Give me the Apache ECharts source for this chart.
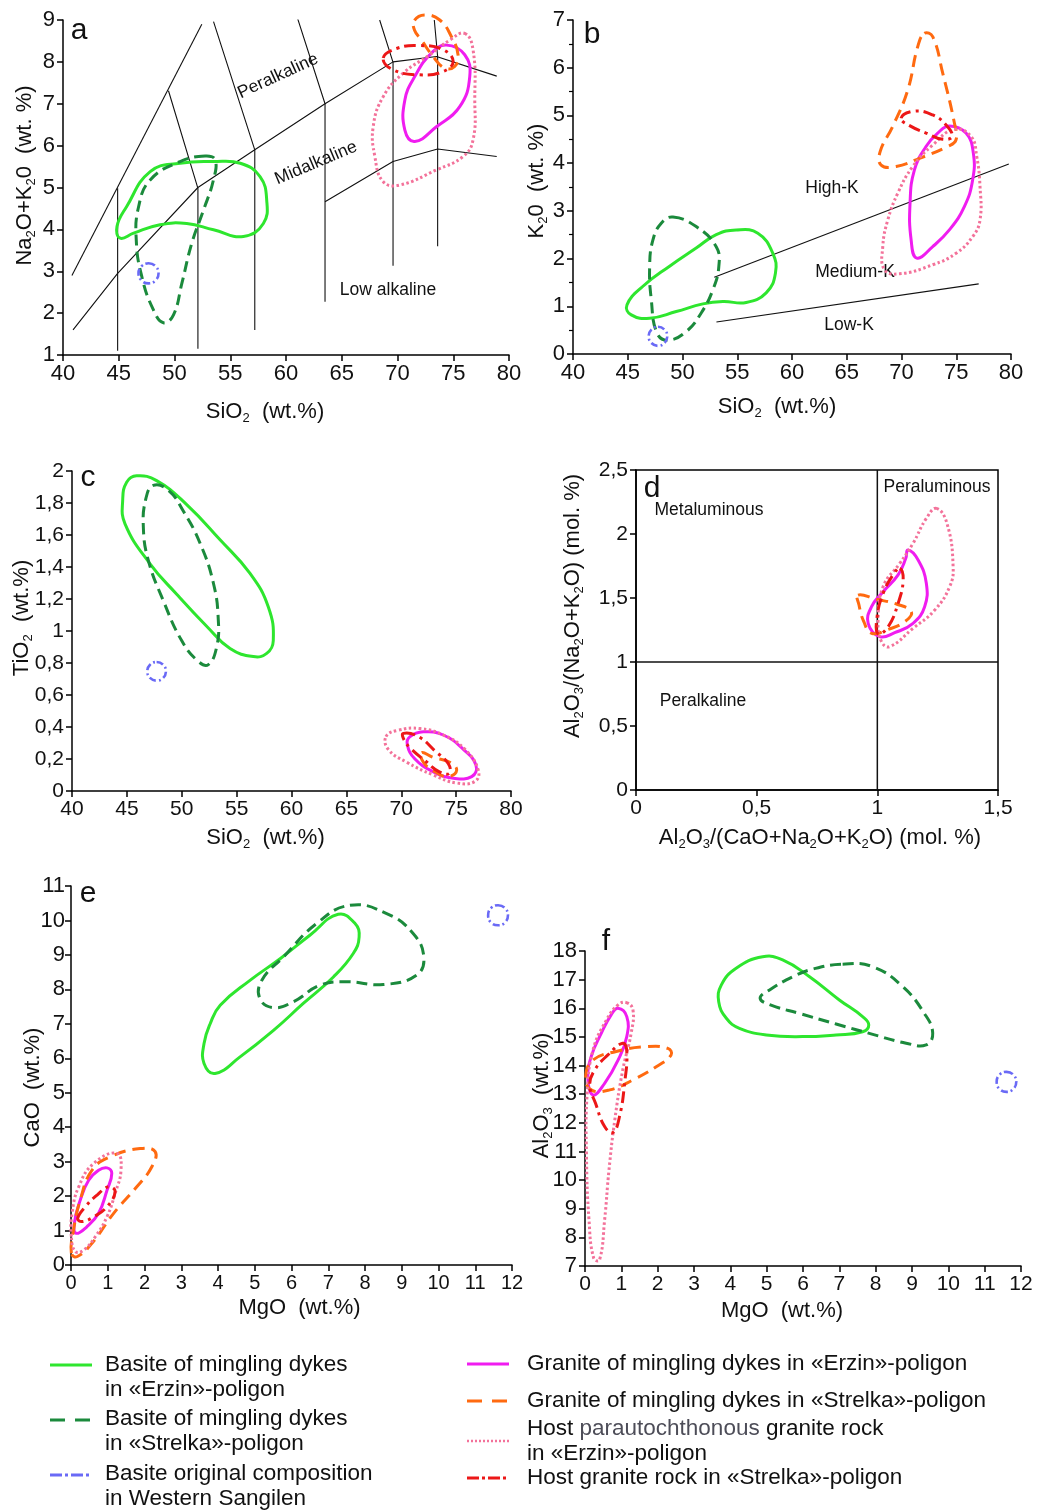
<!DOCTYPE html>
<html><head><meta charset="utf-8">
<script src="https://cdn.jsdelivr.net/npm/echarts/dist/echarts.min.js"></script>
<style>html,body{margin:0;padding:0;background:#fff}#c{width:1042px;height:1512px}</style>
</head><body><div id="c"></div>
<script>
// ---------- Panel a : SiO2 vs Na2O+K2O (field outlines) ----------
const a_basErzin = [[44.84,4.07],[45.7,4.54],[47.82,5.38],[50.5,5.58],[53.5,5.62],[55.9,5.58],[57.67,5.26],[58.27,4.70],[57.97,4.14],[56.18,3.83],[53.5,3.99],[51.1,4.14],[48.7,4.11],[46.33,3.91],[45.13,3.79]];
const a_basStrelka = [[52.75,5.75],[50.5,5.62],[47.82,5.18],[46.78,4.54],[46.57,3.75],[47.07,2.87],[48.12,2.07],[49.01,1.77],[49.91,1.96],[50.66,2.71],[51.55,3.67],[52.6,4.46],[53.49,5.18],[53.64,5.66]];
const a_basOrig = [[47.67,3.19],[48.3,3.12],[48.57,2.95],[48.3,2.78],[47.67,2.71],[47.04,2.78],[46.77,2.95],[47.04,3.12]];
const a_grErzin = [[74.39,8.40],[76.03,8.17],[76.48,7.65],[75.58,6.93],[73.49,6.45],[71.55,6.10],[70.66,6.37],[70.66,7.09],[71.55,7.65],[73.04,8.21]];
const a_grStrelka = [[71.52,8.99],[72.45,9.12],[73.79,9.0],[74.84,8.60],[75.43,8.17],[75.13,7.89],[74.24,7.85],[73.19,8.13],[72.15,8.52],[71.52,8.76]];
const a_hostErzin = [[76.03,8.68],[76.78,8.28],[76.93,7.09],[76.78,6.14],[75.88,5.74],[73.49,5.42],[70.21,5.06],[68.72,5.14],[67.97,5.74],[67.82,6.45],[68.72,7.17],[70.51,7.73],[72.9,8.17],[74.69,8.52]];
const a_hostStrelka = [[68.72,8.09],[69.91,8.32],[72.0,8.39],[74.09,8.29],[74.99,8.01],[74.09,7.77],[72.0,7.69],[69.61,7.81]];
// classification boundaries (panel a)
const tasUpper = [[40.8,2.9],[52.45,8.9]];
const tasMid = [[40.9,1.6],[44.9,2.95],[52.1,5.0],[57.2,5.9],[63.5,7.0],[69.6,8.0],[73.5,8.13],[78.9,7.66]];
const tasLow = [[63.5,4.66],[69.6,5.62],[73.6,5.92],[78.9,5.74]];
const tasV1 = [[44.9,4.98],[44.9,1.1]];
const tasV2 = [[49.46,7.31],[52.1,4.98],[52.1,1.15]];
const tasV3 = [[53.5,8.96],[57.2,5.9],[57.2,1.6]];
const tasV4 = [[61.0,9.07],[63.5,7.0],[63.5,2.27]];
const tasV5 = [[68.4,9.0],[69.6,7.99],[69.6,3.13]];
const tasV6 = [[73.3,9.0],[73.6,8.13],[73.6,3.6]];

// ---------- Panel b : SiO2 vs K2O ----------
const b_basErzin = [[44.93,1.03],[46.39,1.42],[48.82,1.84],[51.25,2.22],[53.08,2.50],[54.9,2.60],[56.88,2.53],[58.25,2.11],[58.49,1.70],[57.64,1.28],[55.82,1.08],[53.69,1.10],[51.86,1.05],[49.43,0.89],[47.0,0.75],[45.32,0.82]];
const b_basStrelka = [[49.13,2.87],[51.25,2.67],[53.08,2.25],[53.32,1.84],[52.78,1.35],[51.71,0.86],[50.34,0.47],[48.67,0.29],[47.67,0.44],[47.15,1.14],[47.0,1.84],[47.3,2.39],[48.06,2.74]];
const b_basOrig = [[47.76,0.57],[48.36,0.51],[48.61,0.37],[48.36,0.23],[47.76,0.17],[47.16,0.23],[46.91,0.37],[47.16,0.51]];
const b_grErzin = [[74.37,4.78],[75.89,4.63],[76.56,4.21],[76.5,3.65],[75.74,3.09],[74.37,2.60],[72.85,2.25],[71.39,2.01],[70.88,2.39],[70.78,3.16],[71.18,3.86],[72.24,4.35],[73.31,4.63]];
const b_grStrelka = [[72.09,6.72],[72.85,6.65],[73.76,5.89],[74.83,4.84],[74.98,4.49],[74.22,4.35],[71.64,4.10],[69.51,3.93],[68.14,3.96],[68.05,4.24],[69.2,4.77],[70.57,5.53],[71.48,6.44]];
const b_hostErzin = [[74.83,4.71],[76.35,4.56],[76.87,4.14],[77.17,3.51],[77.17,2.81],[76.5,2.46],[74.98,2.11],[72.85,1.87],[69.81,1.68],[68.44,1.77],[68.29,2.25],[68.75,2.81],[69.66,3.37],[71.03,3.93],[72.85,4.38]];
const b_hostStrelka = [[69.96,4.94],[71.18,5.09],[72.85,5.01],[74.07,4.80],[74.62,4.56],[73.76,4.50],[72.24,4.63],[70.87,4.77]];
const kHigh = [[52.9,1.61],[79.8,3.98]];
const kLow = [[53.1,0.67],[77.05,1.47]];

// ---------- Panel c : SiO2 vs TiO2 ----------
const c_basErzin = [[45.89,1.97],[47.71,1.94],[50.45,1.79],[53.49,1.57],[56.22,1.36],[57.89,1.15],[58.34,0.94],[57.74,0.86],[56.52,0.84],[54.4,0.89],[52.27,1.03],[49.54,1.23],[47.11,1.42],[44.83,1.67],[44.62,1.82],[44.98,1.93]];
const c_basStrelka = [[47.41,1.91],[48.78,1.88],[50.14,1.75],[51.66,1.55],[52.88,1.30],[53.33,1.07],[53.18,0.90],[52.42,0.79],[51.51,0.81],[49.99,0.94],[48.32,1.19],[46.96,1.44],[46.5,1.65],[46.74,1.83]];
const c_basOrig = [[47.71,0.806],[48.31,0.789],[48.56,0.748],[48.31,0.707],[47.71,0.69],[47.11,0.707],[46.86,0.748],[47.11,0.789]];
const c_grErzin = [[70.8,0.34],[72.01,0.37],[73.83,0.35],[75.66,0.26],[76.81,0.16],[76.42,0.09],[74.75,0.08],[72.92,0.12],[71.25,0.20],[70.55,0.29]];
const c_grStrelka = [[71.86,0.24],[72.92,0.21],[74.43,0.18],[75.05,0.13],[74.29,0.09],[73.08,0.12],[72.01,0.18]];
const c_hostErzin = [[68.61,0.34],[69.73,0.38],[71.71,0.39],[73.83,0.35],[75.81,0.26],[77.02,0.13],[76.72,0.06],[75.05,0.05],[72.92,0.10],[70.49,0.18],[68.82,0.26]];
const c_hostStrelka = [[70.19,0.36],[71.56,0.34],[73.08,0.25],[74.29,0.17],[74.38,0.11],[73.47,0.12],[72.16,0.19],[70.95,0.26],[70.25,0.32]];

// ---------- Panel d : A/CNK vs A/NK ----------
const d_grErzin = [[1.127,1.875],[1.169,1.797],[1.203,1.615],[1.196,1.432],[1.148,1.302],[1.072,1.229],[1.01,1.198],[0.962,1.302],[0.976,1.432],[1.024,1.549],[1.086,1.68],[1.118,1.81]];
const d_grStrelka = [[0.92,1.523],[0.996,1.49],[1.079,1.453],[1.141,1.393],[1.114,1.315],[1.045,1.255],[0.976,1.224],[0.944,1.315],[0.924,1.445]];
const d_hostErzin = [[1.245,2.20],[1.289,2.08],[1.314,1.745],[1.30,1.59],[1.238,1.406],[1.148,1.263],[1.051,1.12],[1.017,1.159],[1.003,1.328],[1.024,1.589],[1.093,1.771],[1.148,1.927],[1.203,2.122]];
const d_hostStrelka = [[1.093,1.732],[1.107,1.641],[1.086,1.458],[1.045,1.276],[1.003,1.219],[0.999,1.354],[1.024,1.536],[1.065,1.68]];
const alDivV = [[1,0],[1,2.5]];
const alDivH = [[0,1],[1.5,1]];

// ---------- Panel e : MgO vs CaO ----------
const e_basErzin = [[7.27,10.18],[7.73,9.91],[7.84,9.52],[7.68,9.04],[7.14,8.36],[6.32,7.59],[5.51,6.81],[4.6,6.04],[3.92,5.56],[3.62,5.85],[3.62,6.43],[3.79,7.01],[4.06,7.54],[4.87,8.26],[5.69,8.89],[6.5,9.57]];
const e_basStrelka = [[7.59,10.44],[8.59,10.2],[9.31,9.62],[9.6,8.94],[9.4,8.41],[8.5,8.14],[7.5,8.22],[6.78,8.12],[6.05,7.64],[5.51,7.47],[5.14,7.73],[5.19,8.26],[5.78,8.94],[6.68,9.91]];
const e_basOrig = [[11.62,10.44],[11.81,10.36],[11.89,10.15],[11.81,9.94],[11.62,9.86],[11.43,9.94],[11.35,10.15],[11.43,10.36]];
const e_grErzin = [[0.98,2.82],[1.11,2.66],[0.98,2.17],[0.75,1.50],[0.43,1.11],[0.14,0.92],[0.09,1.21],[0.25,1.88],[0.48,2.46],[0.75,2.75]];
const e_grStrelka = [[0.01,0.34],[0.07,1.02],[0.25,1.88],[0.57,2.75],[1.07,3.14],[1.88,3.38],[2.29,3.29],[2.2,2.85],[1.79,2.27],[1.16,1.5],[0.57,0.63],[0.16,0.24]];
const e_hostErzin = [[0.01,0.82],[0.03,1.5],[0.21,2.27],[0.62,2.95],[1.25,3.24],[1.36,2.75],[1.2,2.08],[0.98,1.4],[0.66,0.82],[0.34,0.43],[0.12,0.39]];
const e_hostStrelka = [[0.18,1.35],[0.39,1.69],[0.71,2.03],[1.02,2.27],[1.2,2.13],[0.98,1.69],[0.62,1.40],[0.3,1.26]];

// ---------- Panel f : MgO vs Al2O3 ----------
const f_basErzin = [[4.89,17.8],[5.44,17.69],[6.18,17.1],[7.0,16.29],[7.64,15.71],[7.81,15.42],[7.64,15.18],[6.91,15.07],[5.99,15.01],[4.99,15.07],[4.25,15.3],[3.89,15.65],[3.68,16.23],[3.75,16.81],[4.16,17.4]];
const f_basStrelka = [[7.09,17.54],[7.92,17.45],[8.74,16.76],[9.34,15.82],[9.57,15.13],[9.39,14.72],[8.84,14.78],[7.92,15.09],[6.91,15.45],[5.9,15.82],[5.12,16.11],[4.82,16.35],[5.08,16.64],[5.72,17.1],[6.27,17.37]];
const f_basOrig = [[11.6,13.78],[11.79,13.68],[11.87,13.43],[11.79,13.18],[11.6,13.08],[11.41,13.18],[11.33,13.43],[11.41,13.68]];
const f_grErzin = [[0.91,16.0],[1.15,15.71],[1.15,15.01],[0.91,14.19],[0.54,13.38],[0.22,12.97],[0.08,13.55],[0.17,14.31],[0.45,15.13],[0.72,15.77]];
const f_grStrelka = [[0.02,13.61],[0.22,14.19],[0.86,14.49],[1.69,14.66],[2.28,14.6],[2.37,14.37],[1.96,13.96],[1.32,13.5],[0.68,13.15],[0.17,13.15]];
const f_hostErzin = [[1.14,16.2],[1.32,15.94],[1.27,15.13],[1.04,13.85],[0.82,12.1],[0.66,10.35],[0.54,8.61],[0.4,7.21],[0.24,7.27],[0.11,8.61],[0.04,10.93],[0.06,13.03],[0.22,14.54],[0.59,15.59],[0.91,16.12]];
const f_hostStrelka = [[1.04,14.78],[1.15,14.49],[1.09,13.38],[0.95,12.22],[0.77,11.66],[0.54,11.87],[0.29,12.68],[0.13,13.32],[0.27,13.85],[0.63,14.37]];

// ---------- Legend names ----------
const groupNames = {
  basErzin: 'Basite of mingling dykes in «Erzin»-poligon',
  basStrelka: 'Basite of mingling dykes in «Strelka»-poligon',
  basOrig: 'Basite original composition in Western Sangilen',
  grErzin: 'Granite of mingling dykes in «Erzin»-poligon',
  grStrelka: 'Granite of mingling dykes in «Strelka»-poligon',
  hostErzin: 'Host parautochthonous granite rock in «Erzin»-poligon',
  hostStrelka: 'Host granite rock in «Strelka»-poligon'
};
const panelLetters = ['a','b','c','d','e','f'];

// ---------- styles ----------
const STY = {
  basErzin:   {color:'#2ee62e', dash:null, w:3},
  basStrelka: {color:'#1b8a3c', dash:[11,6], w:3},
  basOrig:    {color:'#6a6af6', dash:[7,3,2,3], w:2.6},
  grErzin:    {color:'#f01cf0', dash:null, w:3},
  grStrelka:  {color:'#ff6a10', dash:[12,7], w:3},
  hostErzin:  {color:'#f3729a', dash:[2.5,2.5], w:3},
  hostStrelka:{color:'#ec1717', dash:[12,5,3,5], w:3}
};
const FONT = "'Liberation Sans', Arial, sans-serif";
const TXT = '#111';

const panels = [
  {a:0, fields:{basErzin:a_basErzin,basStrelka:a_basStrelka,basOrig:a_basOrig,grErzin:a_grErzin,grStrelka:a_grStrelka,hostErzin:a_hostErzin,hostStrelka:a_hostStrelka},
   lines:[tasUpper,tasMid,tasLow,tasV1,tasV2,tasV3,tasV4,tasV5,tasV6], lw:1.1},
  {a:1, fields:{basErzin:b_basErzin,basStrelka:b_basStrelka,basOrig:b_basOrig,grErzin:b_grErzin,grStrelka:b_grStrelka,hostErzin:b_hostErzin,hostStrelka:b_hostStrelka},
   lines:[kHigh,kLow], lw:1.1},
  {a:2, fields:{basErzin:c_basErzin,basStrelka:c_basStrelka,basOrig:c_basOrig,grErzin:c_grErzin,grStrelka:c_grStrelka,hostErzin:c_hostErzin,hostStrelka:c_hostStrelka},
   lines:[], lw:1},
  {a:3, fields:{grErzin:d_grErzin,grStrelka:d_grStrelka,hostErzin:d_hostErzin,hostStrelka:d_hostStrelka},
   lines:[alDivV,alDivH], lw:1.5},
  {a:4, fields:{basErzin:e_basErzin,basStrelka:e_basStrelka,basOrig:e_basOrig,grErzin:e_grErzin,grStrelka:e_grStrelka,hostErzin:e_hostErzin,hostStrelka:e_hostStrelka},
   lines:[], lw:1},
  {a:5, fields:{basErzin:f_basErzin,basStrelka:f_basStrelka,basOrig:f_basOrig,grErzin:f_grErzin,grStrelka:f_grStrelka,hostErzin:f_hostErzin,hostStrelka:f_hostStrelka},
   lines:[], lw:1}
];

const commaFmt = v => String(v).replace('.', ',');
function axis(gridIndex, min, max, interval, name, nameGap, namePad, fontSize, margin, comma, extra) {
  const o = {
    type:'value', gridIndex, min, max, interval,
    name, nameLocation:'middle', nameGap, nameMoveOverlap:false,
    nameTextStyle:{fontFamily:FONT, fontSize:22, color:TXT, lineHeight:26, padding:namePad,
      rich:{s:{fontFamily:FONT, fontSize:13, lineHeight:13, verticalAlign:'bottom', color:TXT}}},
    axisLine:{show:true, onZero:false, lineStyle:{color:'#000', width:1.5}},
    axisTick:{show:true, length:6, lineStyle:{color:'#000', width:1.5}},
    axisLabel:{fontFamily:FONT, fontSize, color:TXT, margin},
    splitLine:{show:false}
  };
  if (comma) o.axisLabel.formatter = commaFmt;
  return Object.assign(o, extra || {});
}

const xAxis = [
  axis(0, 40, 80, 5, 'SiO{s|2}  (wt.%)', 44, [0,42,0,0], 22, 8),
  axis(1, 40, 80, 5, 'SiO{s|2}  (wt.%)', 40, [0,30,0,0], 22, 8),
  axis(2, 40, 80, 5, 'SiO{s|2}  (wt.%)', 34, [0,52,0,0], 21, 8),
  axis(3, 0, 1.5, 0.5, 'Al{s|2}O{s|3}/(CaO+Na{s|2}O+K{s|2}O) (mol. %)', 35, [0,0,0,6], 21, 8, true),
  axis(4, 0, 12, 1, 'MgO  (wt.%)', 30, [0,0,0,16], 20, 8),
  axis(5, 0, 12, 1, 'MgO  (wt.%)', 32, [0,42,0,0], 21, 8)
];
const yAxis = [
  axis(0, 1, 9, 1, 'Na{s|2}O+K{s|2}0  (wt. %)', 25, [0,0,0,24], 22, 8),
  axis(1, 0, 7, 1, 'K{s|2}0  (wt. %)', 23, [0,0,0,12], 22, 8, false, {minorTick:{show:true, splitNumber:2, length:4, lineStyle:{color:'#000', width:1.2}}}),
  axis(2, 0, 2, 0.2, 'TiO{s|2}  (wt.%)', 37, [0,0,0,26], 21, 8, true),
  axis(3, 0, 2.5, 0.5, 'Al{s|2}O{s|3}/(Na{s|2}O+K{s|2}O) (mol. %)', 50, [0,0,0,48], 21, 8, true),
  axis(4, 0, 11, 1, 'CaO  (wt.%)', 25, [0,24,0,0], 22, 6),
  axis(5, 7, 18, 1, 'Al{s|2}O{s|3}  (wt.%)', 30, [0,0,0,26], 22, 8)
];

const grid = [
  {left:63, top:20, width:446, height:335},
  {left:573, top:20, width:438, height:334},
  {left:72, top:471, width:439, height:320},
  {left:636, top:470, width:362, height:320, show:true, borderColor:'#000', borderWidth:1.5},
  {left:71, top:886, width:441, height:379},
  {left:585, top:951, width:436, height:315}
];

const series = [];
panels.forEach(p => {
  p.lines.forEach(ln => {
    series.push({type:'line', xAxisIndex:p.a, yAxisIndex:p.a, data:ln, symbol:'none', silent:true,
      lineStyle:{color:'#111', width:p.lw}, z:2, animation:false});
  });
  Object.keys(p.fields).forEach(k => {
    const pts = p.fields[k];
    const st = STY[k];
    series.push({
      type:'custom', name:groupNames[k], xAxisIndex:p.a, yAxisIndex:p.a, data:pts, clip:false, z:3, silent:true,
      renderItem:(params, api) => {
        if (params.dataIndex !== 0) return null;
        const px = pts.map(d => api.coord(d));
        return {type:'polygon', shape:{points:px, smooth:0.45},
          style:{fill:'none', stroke:st.color, lineWidth:st.w, lineDash:st.dash || null, lineCap:'butt'}};
      }
    });
  });
});

// ---------- annotations (text) ----------
const txt = (text, x, y, size, rot) => ({type:'text', x, y, rotation:rot||0, silent:true,
  style:{text, fontFamily:FONT, fontSize:size, fill:TXT, align:'center', verticalAlign:'middle'}});
const graphic = [];
const letterPos = [[79,31],[592,35],[88,478],[652,489],[88,894],[606,942]];
panelLetters.forEach((l,i) => graphic.push(txt(l, letterPos[i][0], letterPos[i][1], 30)));
graphic.push(txt('Peralkaline', 278, 76, 17.5, 0.43));
graphic.push(txt('Midalkaline', 316, 163, 17.5, 0.40));
graphic.push(txt('Low alkaline', 388, 290, 17.5));
graphic.push(txt('High-K', 832, 188, 17.5));
graphic.push(txt('Medium-K', 855, 272, 17.5));
graphic.push(txt('Low-K', 849, 325, 17.5));
graphic.push(txt('Metaluminous', 709, 510, 17.5));
graphic.push(txt('Peraluminous', 937, 487, 17.5));
graphic.push(txt('Peralkaline', 703, 701, 17.5));

// ---------- legend ----------
const legendLayout = [
  {k:'basErzin', x:50, y:1365, tx:105, lines:['Basite of mingling dykes','in «Erzin»-poligon'], ty:[1365,1390]},
  {k:'basStrelka', x:50, y:1420, tx:105, lines:['Basite of mingling dykes','in «Strelka»-poligon'], ty:[1419,1444]},
  {k:'basOrig', x:50, y:1475, tx:105, lines:['Basite original composition','in Western Sangilen'], ty:[1474,1499]},
  {k:'grErzin', x:467, y:1364, tx:527, lines:['Granite of mingling dykes in «Erzin»-poligon'], ty:[1364]},
  {k:'grStrelka', x:467, y:1401, tx:527, lines:['Granite of mingling dykes in «Strelka»-poligon'], ty:[1401]},
  {k:'hostErzin', x:467, y:1441, tx:527, lines:['{n|Host }{g|parautochthonous}{n| granite rock}','in «Erzin»-poligon'], ty:[1429,1454]},
  {k:'hostStrelka', x:467, y:1478, tx:527, lines:['Host granite rock in «Strelka»-poligon'], ty:[1478]}
];
const legendDash = {basStrelka:[15,10], grStrelka:[15,10], basOrig:[12,3,3,3], hostStrelka:[12,3,3,3], hostErzin:[2,2]};
legendLayout.forEach(L => {
  const st = STY[L.k];
  graphic.push({type:'line', silent:true, shape:{x1:L.x, y1:L.y, x2:L.x+42, y2:L.y},
    style:{stroke:st.color, lineWidth:L.k==='hostErzin'?2.5:3, lineDash:legendDash[L.k]||null}});
  L.lines.forEach((t,i) => {
    graphic.push({type:'text', x:L.tx, y:L.ty[i], silent:true,
      style:{text:t, fontFamily:FONT, fontSize:22.5, fill:TXT, align:'left', verticalAlign:'middle',
        rich:{n:{fontFamily:FONT, fontSize:22.5, fill:TXT}, g:{fontFamily:FONT, fontSize:22.5, fill:'#4d4d58'}}}});
  });
});

const chart = echarts.init(document.getElementById('c'), null, {renderer:'canvas'});
chart.setOption({
  animation:false,
  backgroundColor:'#fff',
  grid, xAxis, yAxis, series, graphic
});
</script></body></html>
